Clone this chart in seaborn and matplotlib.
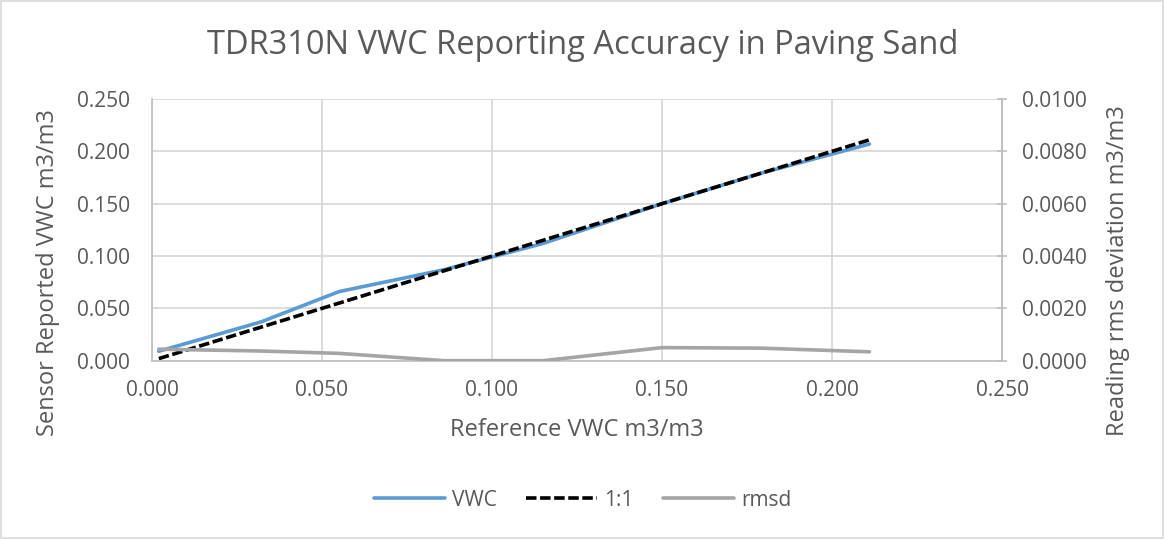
import matplotlib
matplotlib.use("Agg")
import matplotlib.pyplot as plt
import seaborn as sns
import pandas as pd
from matplotlib.ticker import FormatStrFormatter, MultipleLocator
from matplotlib.patches import Rectangle

# Data
reference_vwc = [0.002, 0.032, 0.055, 0.086, 0.115, 0.150, 0.179, 0.211]
sensor_vwc = [0.009, 0.037, 0.066, 0.087, 0.112, 0.150, 0.179, 0.207]
one_to_one = [0.002, 0.032, 0.055, 0.086, 0.115, 0.150, 0.179, 0.211]
rmsd = [0.00044, 0.00037, 0.00028, 0.0, 0.0, 0.00050, 0.00048, 0.00034]

title = "TDR310N VWC Reporting Accuracy in Paving Sand"
xlabel = "Reference VWC m3/m3"
ylabel = "Sensor Reported VWC m3/m3"
y2label = "Reading rms deviation m3/m3"

df = pd.DataFrame({"ref": reference_vwc, "vwc": sensor_vwc, "one": one_to_one, "rmsd": rmsd})

sns.set_theme(style="white")
plt.rcParams['font.family'] = ['Open Sans', 'DejaVu Sans']
txt = "#595959"
grid_c = "#d9d9d9"
spine_c = "#bfbfbf"

fig = plt.figure(figsize=(11.65, 5.39), dpi=100)
ax = fig.add_axes([152/1165, 1 - 360.7/539, (1002-152)/1165, (360.7-99)/539])
ax2 = ax.twinx()

sns.lineplot(data=df, x="ref", y="vwc", ax=ax, color="#5B9BD5", linewidth=2.6, label="VWC", legend=False)
sns.lineplot(data=df, x="ref", y="one", ax=ax, color="black", linewidth=2.6, linestyle=(0, (2.9, 1.0)), label="1:1", legend=False)
sns.lineplot(data=df, x="ref", y="rmsd", ax=ax2, color="#A5A5A5", linewidth=2.6, label="rmsd", legend=False)

ax.set_xlim(0, 0.25)
ax.set_ylim(0, 0.25)
ax2.set_ylim(0, 0.01)
ax.xaxis.set_major_locator(MultipleLocator(0.05))
ax.yaxis.set_major_locator(MultipleLocator(0.05))
ax2.yaxis.set_major_locator(MultipleLocator(0.002))
ax.xaxis.set_major_formatter(FormatStrFormatter("%.3f"))
ax.yaxis.set_major_formatter(FormatStrFormatter("%.3f"))
ax2.yaxis.set_major_formatter(FormatStrFormatter("%.4f"))

ax.grid(True, color=grid_c, linewidth=1.3)
ax.set_axisbelow(True)
for a in (ax, ax2):
    for s in a.spines.values():
        s.set_color(spine_c)
        s.set_linewidth(1.2)
    a.spines["top"].set_visible(False)
ax2.spines["left"].set_visible(False)
ax2.spines["bottom"].set_visible(False)

ax.tick_params(axis="y", length=0, labelsize=15, colors=txt, pad=16)
ax.tick_params(axis="x", length=0, labelsize=15, colors=txt, pad=14)
ax2.tick_params(axis="y", length=7, direction="inout", color=spine_c, width=1.2, labelsize=15, labelcolor=txt, pad=11)

ax.set_xlabel(xlabel, fontsize=17, color=txt, labelpad=12)
ax.set_ylabel(ylabel, fontsize=17, color=txt, labelpad=12)
ax2.set_ylabel(y2label, fontsize=17, color=txt, labelpad=14, rotation=90)
ax.yaxis.label.set_y(0.335)
ax2.yaxis.label.set_y(0.346)

fig.text(0.5, 1 - 45/539, title, fontsize=23.5, color=txt, ha="center", va="center")

h1, l1 = ax.get_legend_handles_labels()
h2, l2 = ax2.get_legend_handles_labels()
fig.legend(h1 + h2, l1 + l2, loc="center", bbox_to_anchor=(0.5, 1 - 500/539), ncol=3,
           frameon=False, fontsize=15, labelcolor=txt, handlelength=3.4, columnspacing=1.4, handletextpad=0.35)

fig.patches.append(Rectangle((0.001, 0.002), 0.997, 0.996, transform=fig.transFigure,
                             fill=False, edgecolor="#d9d9d9", linewidth=1.2))

fig.savefig("out.png", dpi=100, facecolor="white")
